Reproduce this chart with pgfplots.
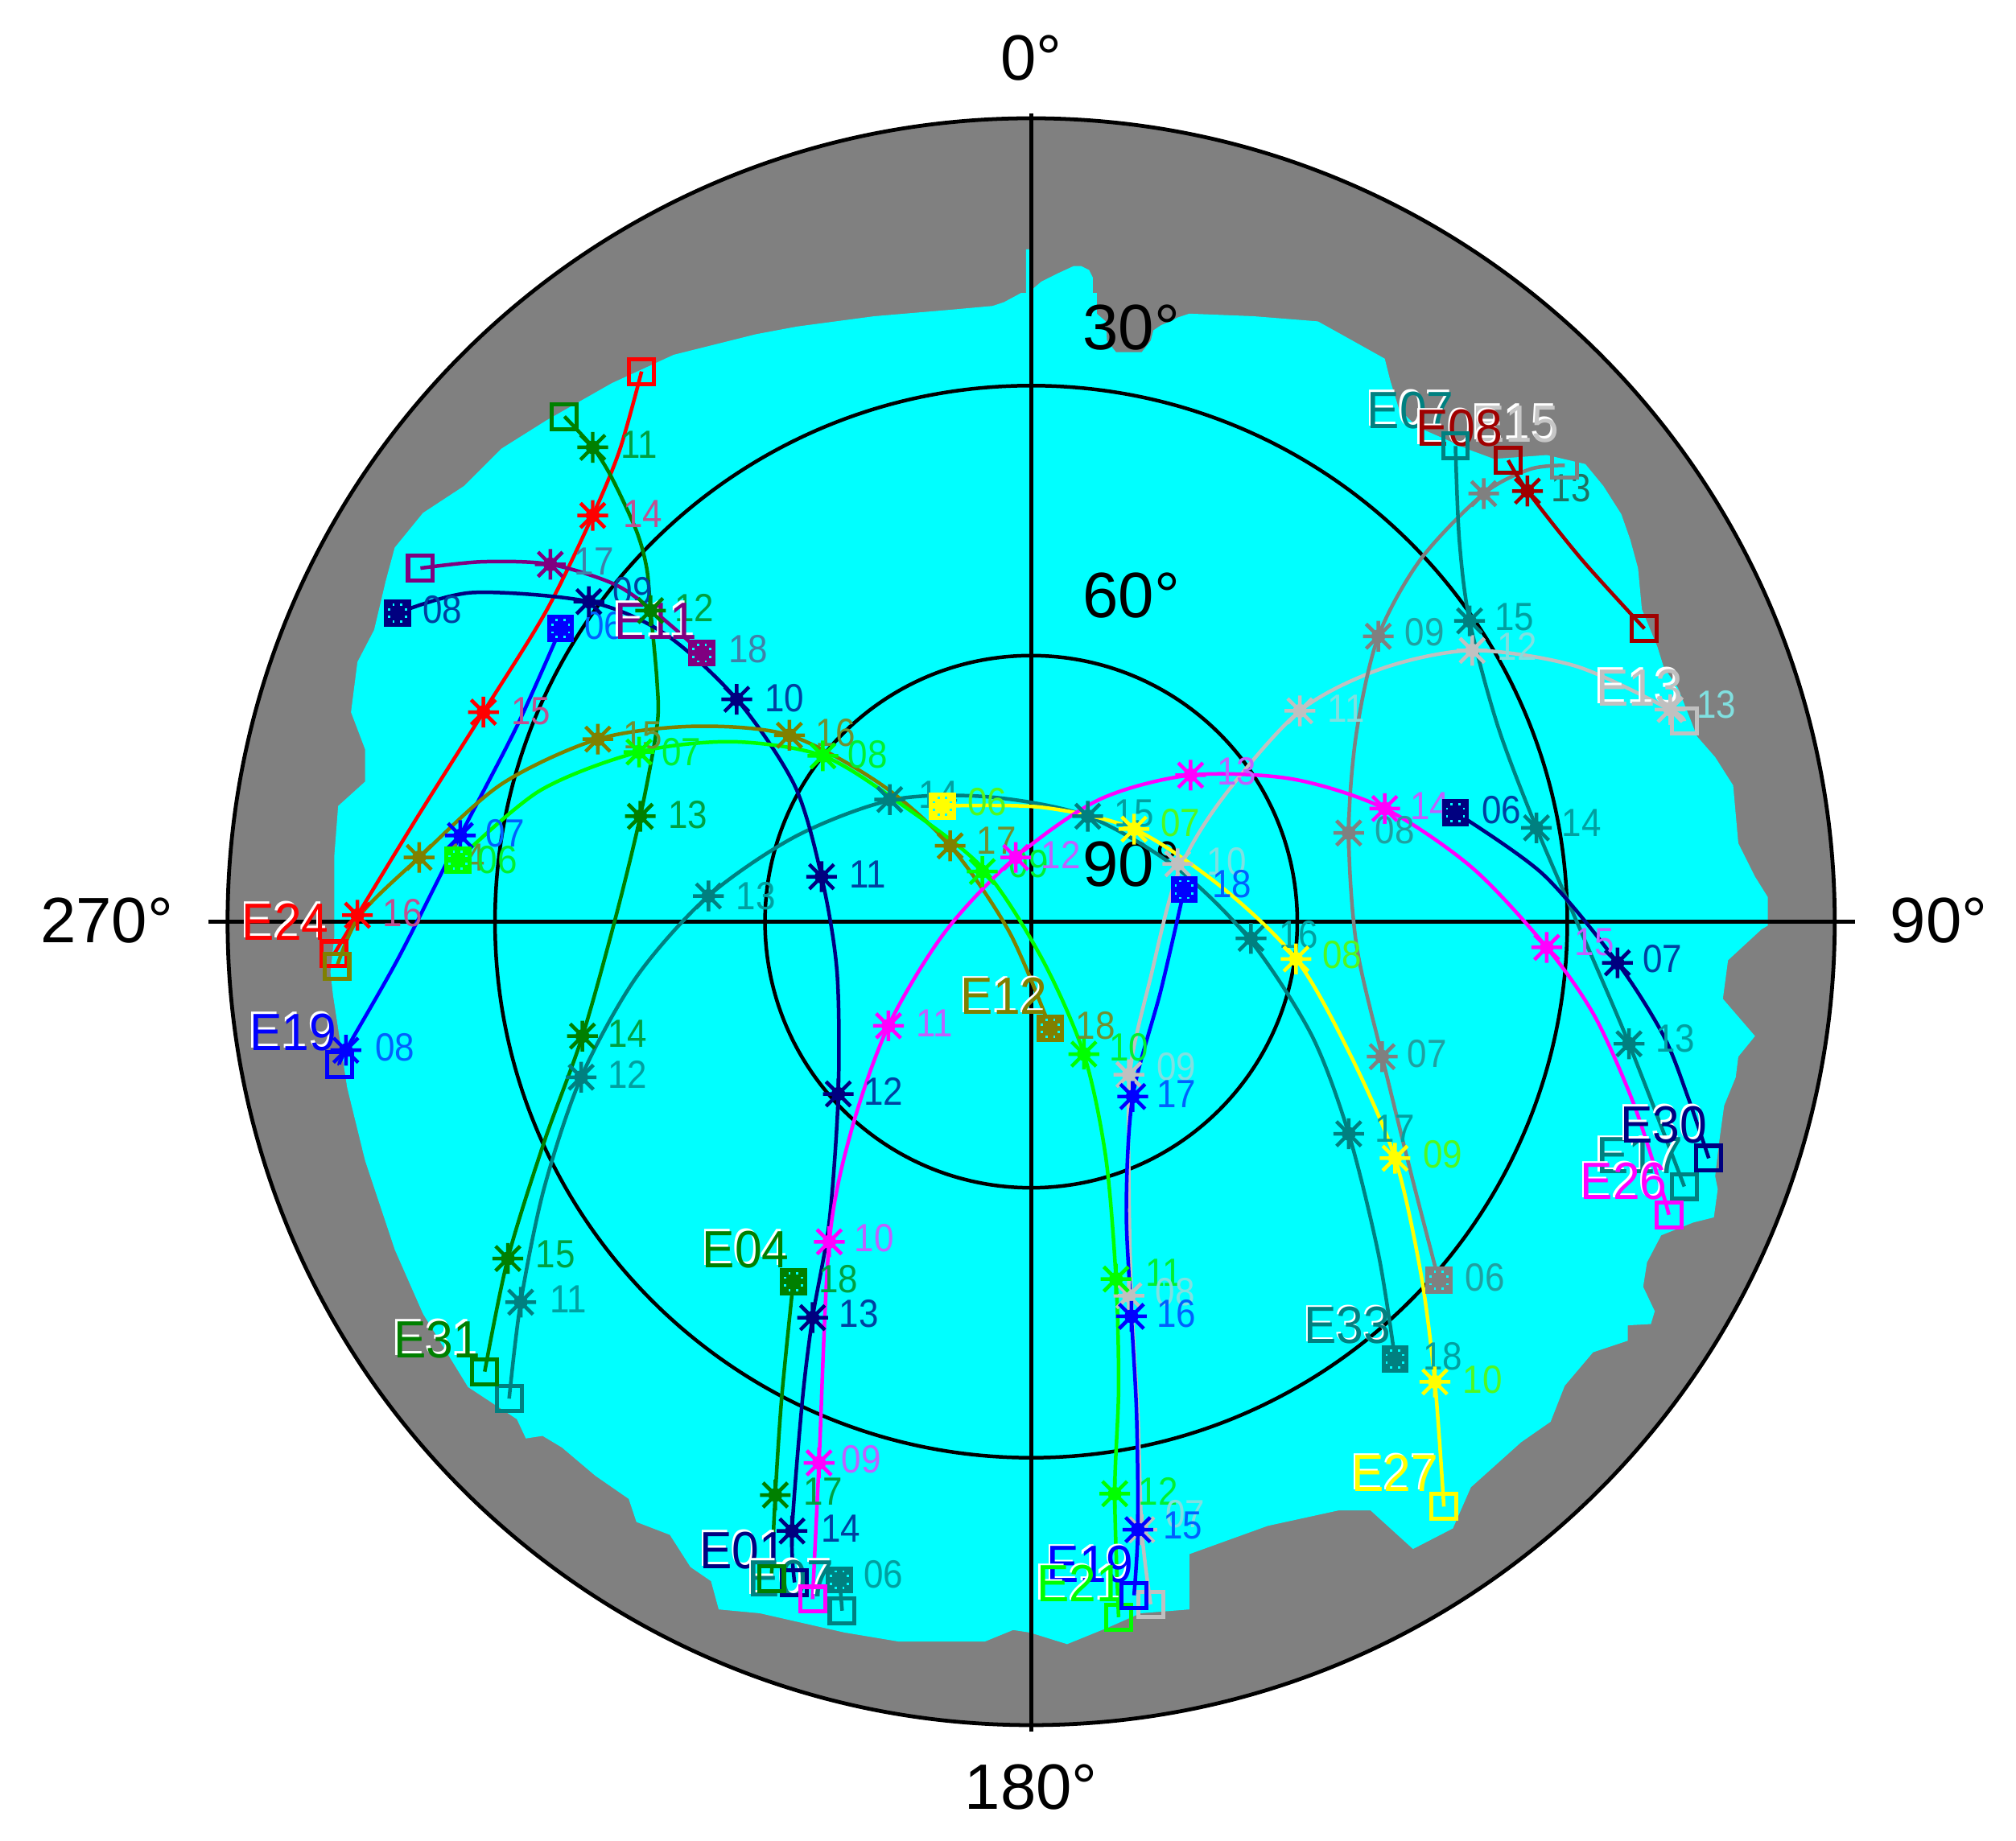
\documentclass[border=0pt]{standalone}
\usepackage{fontspec}
\setmainfont{Liberation Sans}
\usepackage{pgfplots}
\pgfplotsset{compat=1.18}
\definecolor{cy}{HTML}{00FFFF}
\definecolor{gr}{HTML}{808080}
\definecolor{sNavy}{HTML}{000080}
\definecolor{sBlue}{HTML}{0000FF}
\definecolor{sGreen}{HTML}{008000}
\definecolor{sLime}{HTML}{00FF00}
\definecolor{sTeal}{HTML}{008080}
\definecolor{sOlive}{HTML}{808000}
\definecolor{sRed}{HTML}{FF0000}
\definecolor{sMaroon}{HTML}{A00000}
\definecolor{sPurple}{HTML}{800080}
\definecolor{sMag}{HTML}{FF00FF}
\definecolor{sYel}{HTML}{FFFF00}
\definecolor{sGray}{HTML}{808080}
\definecolor{sSil}{HTML}{C0C0C0}
\definecolor{lNavy}{HTML}{0040A0}
\definecolor{lBlue}{HTML}{0060FF}
\definecolor{lGreen}{HTML}{00A040}
\definecolor{lLime}{HTML}{00F030}
\definecolor{lTeal}{HTML}{00A0A0}
\definecolor{lOlive}{HTML}{709030}
\definecolor{lRed}{HTML}{C05090}
\definecolor{lPurple}{HTML}{4080A8}
\definecolor{lMag}{HTML}{C060FF}
\definecolor{lYel}{HTML}{50F820}
\definecolor{lGray}{HTML}{20A0A0}
\definecolor{lSil}{HTML}{80E0E0}
\definecolor{lMaroon}{HTML}{207060}
\pgfdeclareplotmark{star8}{%
  \pgfsetlinewidth{0.8pt}%
  \pgfpathmoveto{\pgfqpoint{-\pgfplotmarksize}{0pt}}\pgfpathlineto{\pgfqpoint{\pgfplotmarksize}{0pt}}%
  \pgfpathmoveto{\pgfqpoint{0pt}{-\pgfplotmarksize}}\pgfpathlineto{\pgfqpoint{0pt}{\pgfplotmarksize}}%
  \pgfpathmoveto{\pgfqpoint{-0.8\pgfplotmarksize}{-0.8\pgfplotmarksize}}\pgfpathlineto{\pgfqpoint{0.8\pgfplotmarksize}{0.8\pgfplotmarksize}}%
  \pgfpathmoveto{\pgfqpoint{-0.8\pgfplotmarksize}{0.8\pgfplotmarksize}}\pgfpathlineto{\pgfqpoint{0.8\pgfplotmarksize}{-0.8\pgfplotmarksize}}%
  \pgfusepathqstroke
  \pgfpathcircle{\pgfpointorigin}{0.45\pgfplotmarksize}\pgfusepathqfill
}
\pgfdeclareplotmark{sqfilled}{%
  \pgfpathrectangle{\pgfqpoint{-\pgfplotmarksize}{-\pgfplotmarksize}}{\pgfqpoint{2\pgfplotmarksize}{2\pgfplotmarksize}}\pgfusepathqfill
  \pgfsetfillcolor{cy}%
  \foreach \a/\b in {0.62/0.28,0.28/0.62,-0.62/0.28,-0.28/0.62,0.62/-0.28,0.28/-0.62,-0.62/-0.28,-0.28/-0.62}{%
    \pgfpathrectangle{\pgfpoint{\a*\pgfplotmarksize-0.25pt}{\b*\pgfplotmarksize-0.25pt}}{\pgfqpoint{0.5pt}{0.5pt}}\pgfusepathqfill}%
}
\pgfdeclareplotmark{sqopen}{%
  \pgfsetlinewidth{0.9pt}%
  \pgfpathrectangle{\pgfqpoint{-\pgfplotmarksize}{-\pgfplotmarksize}}{\pgfqpoint{2\pgfplotmarksize}{2\pgfplotmarksize}}\pgfusepathqstroke
}
\newcommand{\Line}[2]{\addplot[#1,line width=0.8pt,smooth,tension=0.5,no markers] coordinates {#2};}
\newcommand{\Stars}[2]{\addplot[#1,only marks,mark=star8,mark size=3.4pt] coordinates {#2};}
\newcommand{\Open}[2]{\addplot[#1,only marks,mark=sqopen,mark size=2.75pt] coordinates {#2};}
\newcommand{\Filled}[2]{\addplot[#1,only marks,mark=sqfilled,mark size=3pt] coordinates {#2};}
\newcommand{\Lab}[4]{\node[text=#3,inner sep=0pt] at (axis cs:#1,#2) {\fontsize{8.7}{9}\selectfont\scalebox{0.9}[1]{#4}};}
\newcommand{\Name}[4]{%
  \node[text=white,inner sep=0pt] at (axis cs:#1-1.5,#2-1.5) {\fontsize{11.6}{12}\selectfont\scalebox{0.93}[1]{#4}};%
  \node[text=#3,inner sep=0pt] at (axis cs:#1,#2) {\fontsize{11.6}{12}\selectfont\scalebox{0.93}[1]{#4}};}
\newcommand{\Deg}[3]{\node[text=black,inner sep=0pt] at (axis cs:#1,#2) {\fontsize{14.2}{15}\selectfont #3};}
\begin{document}
\begin{tikzpicture}
\useasboundingbox (0,0) rectangle (15.68cm,14.32cm);
\begin{axis}[
  at={(0,0)},anchor=south west,
  scale only axis,width=15.68cm,height=14.32cm,
  xmin=0,xmax=1568,ymin=0,ymax=1432,y dir=reverse,
  hide axis,clip=true]
% sky disc
\fill[gr] (axis cs:802,717) circle[radius=625];
% visibility area
\addplot[fill=cy,draw=none] coordinates {
(620,254)(680,246)(739,241)(772,238)(781,235)(794,228)(798,228)(798,194)(801,194)(801,228)
(803,225)(810,219)(822,213)(835,207)(841,207)(847,210)(850,216)(850,228)(853,228)(853,244)
(860,250)(861,265)(868,274)(888,274)(895,265)(897,257)(903,253)(910,250)(916,247)(925,244)
(975,246)(1025,250)(1043,260)(1077,279)(1081,295)(1088,318)(1102,332)(1143,350)(1162,357)
(1203,354)(1233,361)(1247,378)(1261,400)(1268,420)(1274,442)(1277,474)(1289,503)(1294,519)
(1305,535)(1320,573)(1334,589)(1348,611)(1352,656)(1365,682)(1375,698)(1375,720)(1370,723)
(1344,747)(1340,777)(1365,806)(1352,822)(1350,838)(1341,860)(1337,889)(1334,915)(1336,925)
(1333,947)(1317,951)(1292,961)(1281,982)(1278,1001)(1287,1020)(1284,1030)(1266,1031)
(1266,1043)(1239,1052)(1217,1078)(1206,1106)(1183,1122)(1144,1157)(1130,1189)(1099,1205)
(1066,1175)(1041,1175)(986,1187)(925,1209)(925,1252)(887,1255)(862,1266)(830,1279)(801,1270)
(788,1268)(766,1277)(699,1277)(657,1270)(591,1255)(559,1252)(553,1230)(537,1219)(521,1194)
(495,1184)(489,1166)(463,1148)(437,1126)(422,1117)(409,1119)(402,1104)(364,1079)(329,1022)
(307,972)(284,903)(270,846)(259,774)(257,756)(260,729)(260,666)(263,627)(284,608)(284,583)
(273,554)(278,515)(291,490)(300,452)(307,426)(329,399)(361,378)(390,349)(425,327)(476,298)
(524,276)(588,260)(620,254)} --cycle;
% rings and cross
\draw[black,line width=0.85pt] (axis cs:802,717) circle[radius=625];
\draw[black,line width=0.8pt] (axis cs:802,717) circle[radius=417];
\draw[black,line width=0.8pt] (axis cs:802,717) circle[radius=207];
\addplot[black,line width=0.85pt,no markers] coordinates {(162,717)(1443,717)};
\addplot[black,line width=0.85pt,no markers] coordinates {(802,88)(802,1347)};
\Deg{802}{45}{0°}
\Deg{802}{1390}{180°}
\Deg{83}{716}{270°}
\Deg{1508}{716}{90°}
\Deg{880}{255}{30°}
\Deg{880}{463}{60°}
\Deg{880}{672}{90°}
% silver
\Line{sSil}{(1310,561)(1299,552)(1225,518)(1145,506)(1075,520)(1011,553)(950,622)(916,680)(895,760)(879,833)(878,920)(880,1010)(885,1100)(888,1190)(895,1248)}
\Stars{sSil}{(1299,552)(1145,506)(1011,553)(916,672)(878,836)(878,1008)(888,1190)}
\Open{sSil}{(1310,561)(895,1248)}
% gray
\Line{sGray}{(1119,996)(1098,915)(1075,822)(1055,735)(1049,648)(1055,570)(1072,495)(1105,435)(1154,384)(1190,365)(1217,362)}
\Stars{sGray}{(1075,822)(1049,648)(1072,495)(1154,384)}
\Filled{sGray}{(1119,996)}
\Open{sGray}{(1217,362)}
% teal top-right
\Line{sTeal}{(1132,347)(1135,420)(1143,483)(1165,565)(1195,644)(1232,730)(1267,812)(1310,923)}
\Stars{sTeal}{(1143,483)(1195,644)(1267,812)}
\Open{sTeal}{(1132,347)(1310,923)}
% teal bottom-left to right
\Line{sTeal}{(396,1088)(405,1013)(423,925)(452,838)(495,760)(551,697)(620,650)(695,622)(770,620)(846,635)(915,675)(972,731)(1020,805)(1049,882)(1072,975)(1085,1057)}
\Stars{sTeal}{(405,1013)(452,838)(551,697)(692,622)(846,635)(973,730)(1049,882)}
\Filled{sTeal}{(1085,1057)}
\Open{sTeal}{(396,1088)}
% teal short
\Line{sTeal}{(655,1253)(653,1229)}
\Filled{sTeal}{(653,1229)}
\Open{sTeal}{(655,1253)}
% maroon
\Line{sMaroon}{(1173,358)(1188,382)(1230,435)(1279,489)}
\Stars{sMaroon}{(1188,382)}
\Open{sMaroon}{(1173,358)(1279,489)}
% red
\Line{sRed}{(499,289)(482,350)(461,401)(425,475)(376,554)(325,635)(278,712)(260,742)}
\Stars{sRed}{(461,401)(376,554)(278,712)}
\Open{sRed}{(499,289)(260,742)}
% dark green long
\Line{sGreen}{(439,324)(461,348)(476,372)(495,413)(503,442)(506,475)(511,530)(511,565)(498,635)(479,713)(453,806)(423,889)(395,979)(377,1067)}
\Stars{sGreen}{(461,348)(506,475)(498,635)(453,806)(395,979)}
\Open{sGreen}{(439,324)(377,1067)}
% purple
\Line{sPurple}{(327,442)(375,437)(428,439)(479,455)(514,480)(546,508)}
\Stars{sPurple}{(428,439)}
\Filled{sPurple}{(546,508)}
\Open{sPurple}{(327,442)}
% navy long
\Line{sNavy}{(309,477)(367,461)(458,468)(517,493)(573,544)(618,611)(639,682)(651,756)(652,851)(645,950)(632,1025)(624,1090)(616,1191)(618,1231)}
\Stars{sNavy}{(458,468)(573,544)(639,682)(652,851)(632,1025)(616,1191)}
\Filled{sNavy}{(309,477)}
\Open{sNavy}{(618,1231)}
% blue left
\Line{sBlue}{(436,489)(402,565)(358,650)(310,745)(269,817)(264,828)}
\Stars{sBlue}{(358,650)(269,817)}
\Filled{sBlue}{(436,489)}
\Open{sBlue}{(264,828)}
% olive
\Line{sOlive}{(262,752)(280,712)(326,667)(390,610)(465,575)(540,565)(614,572)(685,610)(739,658)(785,725)(817,800)}
\Stars{sOlive}{(326,667)(465,575)(614,572)(739,658)}
\Filled{sOlive}{(817,800)}
\Open{sOlive}{(262,752)}
% lime
\Line{sLime}{(356,669)(420,615)(497,585)(570,577)(640,588)(700,625)(764,675)(810,745)(843,820)(860,900)(868,995)(870,1080)(867,1162)(870,1258)}
\Stars{sLime}{(497,585)(640,588)(764,678)(843,820)(868,995)(867,1162)}
\Filled{sLime}{(356,669)}
\Open{sLime}{(870,1258)}
% blue bottom
\Line{sBlue}{(921,692)(903,770)(881,853)(876,940)(880,1024)(884,1100)(885,1190)(882,1241)}
\Stars{sBlue}{(881,853)(880,1024)(885,1190)}
\Filled{sBlue}{(921,692)}
\Open{sBlue}{(882,1241)}
% dark green short
\Line{sGreen}{(617,997)(608,1087)(603,1163)(600,1228)}
\Stars{sGreen}{(603,1163)}
\Filled{sGreen}{(617,997)}
\Open{sGreen}{(600,1228)}
% yellow
\Line{sYel}{(733,627)(810,628)(882,645)(950,690)(1008,746)(1050,820)(1085,901)(1105,990)(1116,1075)(1123,1172)}
\Stars{sYel}{(882,645)(1008,746)(1085,901)(1116,1075)}
\Filled{sYel}{(733,627)}
\Open{sYel}{(1123,1172)}
% magenta
\Line{sMag}{(632,1244)(637,1138)(645,966)(662,880)(691,798)(735,725)(790,667)(855,622)(926,603)(1005,606)(1077,629)(1145,675)(1203,737)(1240,790)(1270,857)(1292,924)(1298,945)}
\Stars{sMag}{(637,1138)(645,966)(691,798)(790,667)(926,603)(1077,629)(1203,737)}
\Open{sMag}{(632,1244)(1298,945)}
% navy right
\Line{sNavy}{(1132,632)(1200,680)(1258,749)(1294,806)(1313,854)(1329,901)}
\Stars{sNavy}{(1258,749)}
\Filled{sNavy}{(1132,632)}
\Open{sNavy}{(1329,901)}
% hour labels
\Lab{497}{346}{lGreen}{11}
\Lab{540}{473}{lGreen}{12}
\Lab{535}{634}{lGreen}{13}
\Lab{488}{804}{lGreen}{14}
\Lab{432}{976}{lGreen}{15}
\Lab{500}{400}{lRed}{14}
\Lab{413}{553}{lRed}{15}
\Lab{313}{710}{lRed}{16}
\Lab{462}{437}{lPurple}{17}
\Lab{582}{505}{lPurple}{18}
\Lab{344}{474}{lNavy}{08}
\Lab{492}{460}{lNavy}{09}
\Lab{610}{543}{lNavy}{10}
\Lab{675}{680}{lNavy}{11}
\Lab{687}{849}{lNavy}{12}
\Lab{668}{1022}{lNavy}{13}
\Lab{654}{1189}{lNavy}{14}
\Lab{470}{487}{lBlue}{06}
\Lab{393}{648}{lBlue}{07}
\Lab{307}{815}{lBlue}{08}
\Lab{362}{667}{lOlive}{14}
\Lab{500}{572}{lOlive}{15}
\Lab{650}{570}{lOlive}{16}
\Lab{775}{654}{lOlive}{17}
\Lab{852}{798}{lOlive}{18}
\Lab{387}{669}{lLime}{06}
\Lab{530}{585}{lLime}{07}
\Lab{675}{587}{lLime}{08}
\Lab{800}{672}{lLime}{09}
\Lab{878}{815}{lLime}{10}
\Lab{905}{990}{lLime}{11}
\Lab{901}{1160}{lLime}{12}
\Lab{442}{1011}{lTeal}{11}
\Lab{488}{836}{lTeal}{12}
\Lab{588}{697}{lTeal}{13}
\Lab{730}{618}{lTeal}{14}
\Lab{882}{633}{lTeal}{15}
\Lab{1010}{727}{lTeal}{16}
\Lab{1085}{878}{lTeal}{17}
\Lab{1122}{1055}{lTeal}{18}
\Lab{1178}{480}{lTeal}{15}
\Lab{1230}{640}{lTeal}{14}
\Lab{1303}{808}{lTeal}{13}
\Lab{687}{1225}{lTeal}{06}
\Lab{1155}{994}{lGray}{06}
\Lab{1110}{820}{lGray}{07}
\Lab{1085}{646}{lGray}{08}
\Lab{1108}{492}{lGray}{09}
\Lab{1335}{548}{lSil}{13}
\Lab{1180}{503}{lSil}{12}
\Lab{1047}{551}{lSil}{11}
\Lab{954}{670}{lSil}{10}
\Lab{915}{830}{lSil}{09}
\Lab{914}{1005}{lSil}{08}
\Lab{922}{1178}{lSil}{07}
\Lab{958}{688}{lBlue}{18}
\Lab{915}{851}{lBlue}{17}
\Lab{915}{1022}{lBlue}{16}
\Lab{920}{1187}{lBlue}{15}
\Lab{652}{995}{lGreen}{18}
\Lab{640}{1160}{lGreen}{17}
\Lab{768}{624}{lYel}{06}
\Lab{918}{640}{lYel}{07}
\Lab{1044}{743}{lYel}{08}
\Lab{1122}{898}{lYel}{09}
\Lab{1153}{1073}{lYel}{10}
\Lab{670}{1135}{lMag}{09}
\Lab{680}{963}{lMag}{10}
\Lab{727}{796}{lMag}{11}
\Lab{825}{665}{lMag}{12}
\Lab{962}{600}{lMag}{13}
\Lab{1112}{627}{lMag}{14}
\Lab{1240}{733}{lMag}{15}
\Lab{1168}{630}{lNavy}{06}
\Lab{1293}{746}{lNavy}{07}
\Lab{1222}{380}{lMaroon}{13}
% satellite names
\Name{222}{717}{sRed}{E24}
\Name{228}{803}{sBlue}{E19}
\Name{510}{483}{sPurple}{E11}
\Name{340}{1042}{sGreen}{E31}
\Name{580}{972}{sGreen}{E04}
\Name{578}{1206}{sNavy}{E01}
\Name{615}{1228}{sTeal}{E07}
\Name{781}{775}{sOlive}{E12}
\Name{848}{1217}{sBlue}{E19}
\Name{840}{1232}{sLime}{E21}
\Name{1048}{1031}{sTeal}{E33}
\Name{1085}{1146}{sYel}{E27}
\Name{1097}{319}{sTeal}{E07}
\Name{1179}{330}{white!55!gray}{E15}
\Name{1135}{333}{sMaroon}{E08}
\Name{1275}{535}{sSil}{E13}
\Name{1275}{899}{sTeal}{E17}
\Name{1294}{875}{sNavy}{E30}
\Name{1263}{919}{sMag}{E26}
\end{axis}
\end{tikzpicture}
\end{document}
